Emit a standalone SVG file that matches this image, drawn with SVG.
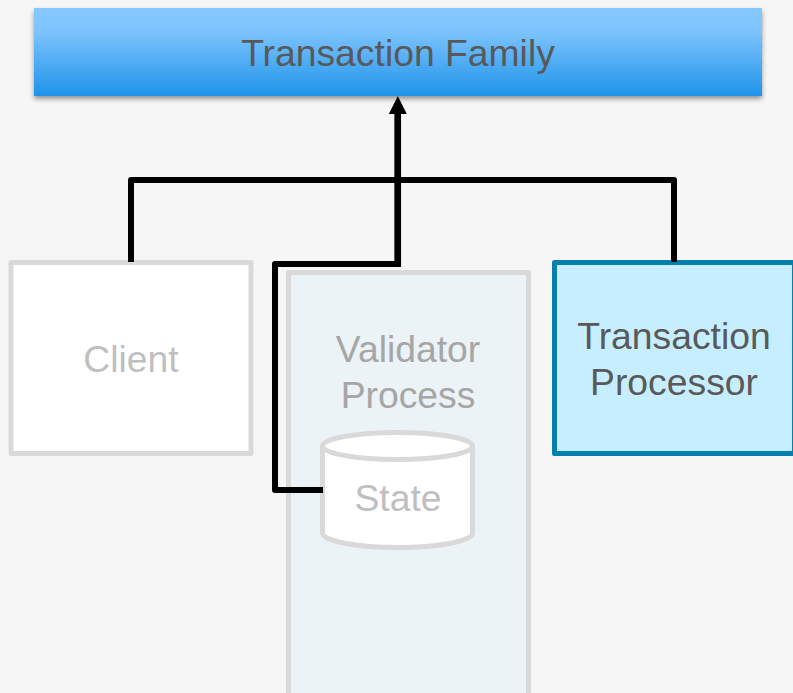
<svg xmlns="http://www.w3.org/2000/svg" width="793" height="693" viewBox="0 0 793 693">
<style>
text{font-family:"Liberation Sans",Arial,sans-serif;font-size:37.300px;text-anchor:middle}
.dark{fill:#595959}
.dim{fill:#bfbfbf}
.dim2{fill:#a6a6a6}
.box{stroke:#d9d9d9;stroke-width:5;stroke-linejoin:round}
.wire{fill:none;stroke:#000;stroke-width:6;stroke-linejoin:round}
</style>
<defs>
<linearGradient id="banner" x1="0" y1="0" x2="0" y2="1"><stop offset="0" stop-color="#85c8ff"/><stop offset="0.25" stop-color="#7fc4fd"/><stop offset="1" stop-color="#1f94ea"/></linearGradient>
<filter id="shadow" x="-3%" y="-10%" width="106%" height="125%"><feDropShadow dx="0" dy="3" stdDeviation="2.5" flood-color="#000" flood-opacity="0.4"/></filter>
</defs>
<rect width="793" height="693" fill="#f6f6f6"/>
<g id="transaction-family">
<rect x="34" y="8" width="728" height="88" fill="url(#banner)" filter="url(#shadow)"/>
<text class="dark" x="398" y="66">Transaction Family</text>
</g>
<g id="client">
<rect class="box" x="11" y="262.500" width="240" height="191" fill="#fff"/>
<text class="dim" x="131" y="372">Client</text>
</g>
<g id="validator-process">
<rect class="box" x="288.500" y="272.500" width="240" height="430" fill="#ebf3f7"/>
<text class="dim2" x="408" y="362">Validator</text>
<text class="dim2" x="408" y="408">Process</text>
</g>
<g id="state">
<path class="box" d="M322.500 446V533C322.500 541 356 547.500 397.500 547.500S472.500 541 472.500 533V446Z" fill="#fff"/>
<ellipse class="box" cx="397.500" cy="446" rx="75" ry="13.500" fill="#fff"/>
<text class="dim" x="398" y="511">State</text>
</g>
<g id="transaction-processor">
<rect x="554.500" y="262.500" width="240" height="191" fill="#c7eeff" stroke="#0580ae" stroke-width="5" stroke-linejoin="round"/>
<text class="dark" x="674" y="349">Transaction</text>
<text class="dark" x="674" y="395">Processor</text>
</g>
<g id="connectors">
<path class="wire" d="M131 262V180H674V262"/>
<path class="wire" d="M323 490H275V264H398"/>
<path class="wire" style="stroke-width:6.700" d="M397.700 267V112"/>
<path d="M397.800 96L388.800 114H406.800Z" fill="#000"/>
</g>
</svg>
